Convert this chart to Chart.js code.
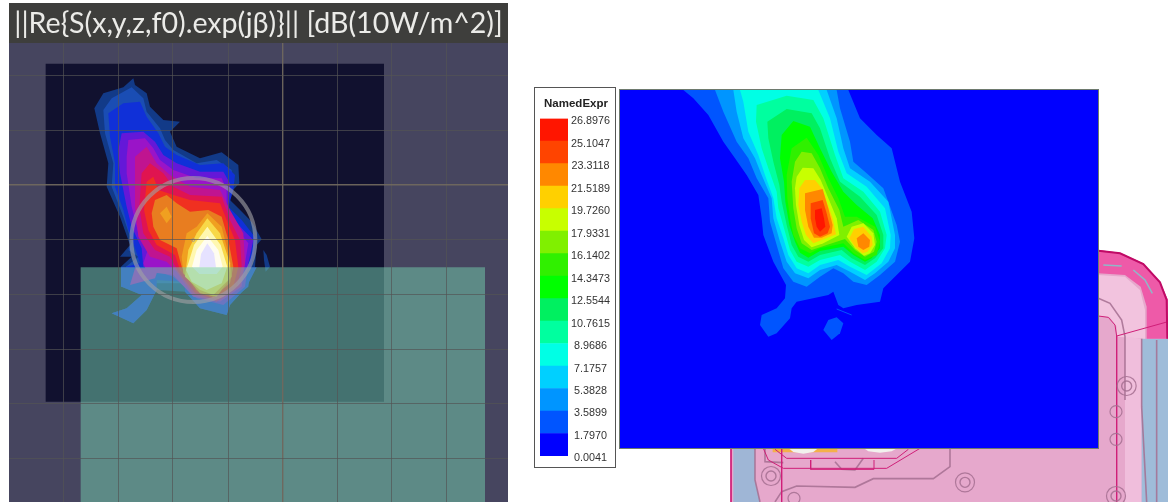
<!DOCTYPE html>
<html><head><meta charset="utf-8">
<script src="https://cdn.jsdelivr.net/npm/chart.js@4/dist/chart.umd.min.js"></script>
<style>
html,body{margin:0;padding:0;background:#fff;width:1168px;height:502px;overflow:hidden}
canvas{position:absolute;display:block}
#left{left:9px;top:3px;background:linear-gradient(#3e3e3c 40px,#46455f 40px);filter:blur(.7px)}
#cad{left:720px;top:240px;filter:blur(.4px)}
#heat{left:620px;top:90px;background:#0000ff;outline:1px solid #6e7a6e;filter:blur(.5px)}
#bar{left:535px;top:88px;background:#fff;outline:1px solid #555;filter:blur(.35px)}
</style></head><body>
<canvas id="cad" width="448" height="262"></canvas>
<canvas id="left" width="499" height="499"></canvas>
<canvas id="heat" width="478" height="358"></canvas>
<canvas id="bar" width="80" height="379"></canvas>
<script>
/* ---------- left panel ---------- */
const leftTitle = "||Re{S(x,y,z,f0).exp(jβ)}|| [dB(10W/m^2)]";
const leftGridX = [190,355,518,685,848,1012,1175,1340];
const leftGridY = [225,390,553,718,882,1048,1210,1376];
const leftMajorX = 848, leftMajorY = 553;
const leftColors = ["#123a88","#1a4db4","#1030d8","#6418d8","#9a14c8","#c01490","#e01450","#f03020","#e87d20","#f0a020","#f8d848","#fff8b0","#fffdf0","#e6e2ff"];
const leftC1 = [[400,235],[405,255],[440,280],[450,320],[490,360],[540,365],[510,395],[530,440],[600,475],[665,457],[715,495],[718,550],[680,590],[715,625],[755,665],[785,718],[770,735],[765,800],[740,860],[690,915],[680,945],[600,925],[555,875],[470,870],[440,930],[400,970],[335,940],[380,925],[425,885],[365,860],[363,800],[395,770],[360,770],[390,735],[360,650],[320,560],[325,490],[300,400],[283,325],[310,280],[370,262]];
const leftC1b = [[790,750],[800,765],[810,800],[797,815],[792,780]];
const leftC2 = [[395,262],[430,295],[440,335],[480,385],[495,420],[520,450],[590,490],[650,480],[695,510],[700,550],[670,590],[690,640],[740,690],[765,720],[745,790],[730,850],[690,895],[670,925],[610,905],[560,850],[470,850],[440,860],[380,850],[378,800],[415,770],[385,750],[395,725],[370,650],[335,560],[340,490],[315,400],[310,330],[335,295]];
const leftUnderA = [[470,800],[470,870],[440,930],[400,970],[335,940],[380,925],[425,885],[365,860],[363,802]];
const leftUnderB = [[550,802],[770,802],[740,860],[690,915],[680,945],[600,925],[555,875]];
const leftC3 = [[370,310],[420,305],[440,350],[475,400],[495,440],[530,465],[600,495],[670,490],[705,525],[700,570],[685,620],[725,660],[770,718],[755,790],[745,860],[690,905],[670,925],[600,905],[550,845],[470,840],[380,845],[378,800],[420,790],[405,745],[385,690],[370,630],[345,560],[345,490],[330,410],[325,340]];
const leftC4 = [[365,400],[430,395],[465,425],[490,465],[530,490],[600,515],[670,515],[690,550],[685,640],[730,690],[760,720],[745,790],[735,860],[670,915],[590,895],[520,830],[430,800],[425,745],[395,680],[380,620],[360,520],[355,450]];
const leftC5 = [[385,420],[435,415],[460,445],[480,480],[520,510],[590,535],[665,535],[680,570],[680,650],[720,700],[745,730],[735,790],[725,860],[660,905],[580,890],[520,825],[440,815],[430,790],[445,745],[415,700],[395,620],[380,520],[380,470]];
const leftC5b = [[405,805],[475,805],[465,835],[390,855]];
const leftC6 = [[405,470],[440,440],[470,490],[510,525],[570,560],[660,570],[690,630],[730,700],[735,790],[720,860],[650,905],[580,885],[530,815],[500,785],[450,770],[415,710],[405,620]];
const leftC7 = [[425,520],[450,490],[490,520],[520,560],[570,585],[665,590],[690,660],[720,720],[725,800],[710,860],[650,900],[585,880],[535,815],[510,770],[465,750],[430,700],[418,620]];
const leftC8 = [[440,545],[460,530],[475,570],[520,585],[570,600],[660,610],[680,660],[705,720],[715,800],[700,860],[640,895],[590,875],[540,810],[525,765],[470,735],[445,690],[432,630]];
const leftC9 = [[465,600],[500,585],[530,610],[570,635],[625,630],[665,650],[685,720],[700,800],[690,850],[640,890],[590,870],[545,800],[530,745],[480,720],[460,680],[455,640]];
const leftC10a = [[560,700],[590,680],[622,640],[665,680],[690,780],[695,830],[650,890],[600,880],[550,820],[545,770]];
const leftC10b = [[480,640],[500,620],[515,650],[500,670]];
const leftC11 = [[565,750],[590,700],[622,655],[660,700],[690,790],[685,840],[640,885],[600,870],[555,830]];
const leftC12 = [[565,790],[582,735],[622,680],[662,735],[682,800],[665,850],[620,870],[575,845],[558,810]];
const leftC13 = [[576,800],[590,750],[622,708],[655,750],[668,800],[650,822],[598,822]];
const leftC14 = [[598,802],[603,762],[622,730],[642,760],[648,802]];
const leftDark = [[137,191],[1152,191],[1152,1205],[137,1205]];
const leftBoard = [[242,802],[1455,802],[1455,1506],[242,1506]];
const leftRing = [[580,720]];

/* ---------- right field plot ---------- */
const scaleValues = [0.0041,1.7970,3.5899,5.3828,7.1757,8.9686,10.7615,12.5544,14.3473,16.1402,17.9331,19.7260,21.5189,23.3118,25.1047,26.8976];
const scaleColors = ["#0000ff","#0055ff","#0095ff","#00d0ff","#00ffe5","#00ff9f","#00f060","#00ff00","#30f000","#80f000","#c8ff00","#ffd000","#ff8800","#ff4400","#ff1500"];
const rightL1 = [[10,15],[505,15],[540,100],[590,150],[635,190],[660,290],[695,380],[703,460],[690,530],[650,570],[610,610],[600,650],[530,660],[490,670],[475,660],[460,620],[445,630],[350,650],[335,670],[330,700],[290,745],[265,755],[240,720],[245,690],[290,670],[315,640],[318,600],[280,530],[250,450],[245,400],[235,330],[200,270],[165,220],[130,170],[85,90],[40,40]];
const rightL1b = [[430,735],[445,705],[470,697],[490,715],[480,745],[455,765]];
const rightL2 = [[105,15],[470,15],[480,70],[510,170],[520,230],[560,265],[610,310],[650,420],[660,470],[645,530],[600,570],[560,600],[520,590],[490,565],[460,550],[420,575],[380,605],[340,590],[310,550],[290,480],[270,410],[265,340],[230,280],[205,220],[170,170],[130,80]];
const rightL3 = [[160,15],[440,15],[470,100],[490,190],[510,250],[570,290],[625,350],[645,450],[645,490],[625,530],[585,565],[555,585],[510,560],[470,540],[420,555],[385,580],[345,565],[320,530],[300,470],[280,400],[275,340],[245,270],[225,220],[190,160],[170,80]];
const rightL4 = [[180,15],[415,15],[450,100],[475,200],[500,265],[560,305],[615,370],[632,450],[630,490],[605,535],[560,570],[510,545],[475,525],[420,540],[385,565],[350,550],[325,510],[310,460],[290,400],[280,340],[255,270],[235,210],[205,140],[190,50]];
const rightL5 = [[230,60],[320,32],[400,45],[430,100],[465,210],[490,280],[550,320],[600,380],[620,450],[615,490],[590,530],[555,555],[510,530],[480,510],[420,525],[385,545],[350,530],[330,495],[315,440],[295,370],[290,320],[265,250],[245,190],[228,110]];
const rightL6 = [[262,110],[320,72],[395,85],[420,130],[450,220],[480,290],[540,335],[590,390],[610,450],[610,490],[585,520],[555,540],[515,520],[485,495],[420,510],[385,530],[355,515],[335,480],[320,420],[305,350],[298,300],[280,230],[265,160]];
const rightL7 = [[305,150],[340,108],[390,125],[420,190],[455,260],[490,320],[530,360],[578,400],[600,450],[600,490],[575,520],[555,530],[520,510],[490,485],[420,498],[385,518],[360,503],[345,470],[328,420],[316,350],[312,290],[300,220]];
const rightL8 = [[335,190],[380,158],[415,210],[445,280],[475,340],[495,395],[530,395],[585,425],[600,470],[590,510],[555,525],[520,505],[490,475],[420,490],[390,505],[360,490],[340,450],[330,400],[322,340],[320,270]];
const rightL9 = [[345,230],[365,200],[395,205],[420,250],[445,310],[478,375],[490,425],[535,405],[580,435],[590,470],[582,500],[555,515],[525,495],[495,462],[440,480],[395,495],[365,475],[350,430],[340,370],[335,290]];
const rightL10a = [[350,275],[368,248],[400,250],[422,285],[445,340],[470,400],[478,450],[430,475],[395,487],[372,465],[358,420],[348,360],[345,310]];
const rightL10b = [[500,455],[515,425],[550,415],[580,445],[585,480],[570,505],[552,512],[525,490]];
const rightL11a = [[358,310],[375,285],[405,285],[425,310],[440,350],[458,400],[468,448],[425,465],[400,475],[378,450],[365,410],[355,360]];
const rightL11b = [[508,460],[522,432],[550,425],[575,455],[578,480],[562,500],[548,505],[525,485]];
const rightL12a = [[375,325],[428,312],[445,370],[458,420],[455,445],[425,458],[402,458],[385,425],[375,375]];
const rightL12b = [[530,460],[550,445],[570,465],[568,485],[550,495],[535,485]];
const rightL13 = [[392,355],[428,345],[440,385],[450,425],[443,445],[420,455],[402,445],[392,400]];
const rightL14 = [[405,375],[425,370],[432,400],[436,425],[420,440],[410,425],[405,400]];
const rightSliver = [[470,672],[515,690]];

/* ---------- CAD outline behind the field plot ---------- */
const cadBody = [[33,786],[33,620],[1135,620],[1135,30],[1200,38],[1270,70],[1320,125],[1344,180],[1344,786]];
const cadBand = [[1135,30],[1200,38],[1270,70],[1320,125],[1344,180],[1344,296],[1280,296],[1280,200],[1262,140],[1215,105],[1135,100]];
const cadLight = [[1135,105],[1215,110],[1260,150],[1275,210],[1275,296],[1190,290],[1190,260],[1170,232],[1135,228]];
const cadLightStrip = [[1215,290],[1265,296],[1265,786],[1215,786]];
const cadStripR = [[1265,296],[1344,296],[1344,786],[1265,786]];
const cadStripL = [[40,620],[105,620],[105,720],[120,786],[40,786]];
const cadCamera = [[158,620],[352,620],[352,637],[158,637]];
const cadLensA = [[200,620],[300,620],[280,636],[250,641],[220,636]];
const cadLensB = [[425,620],[540,620],[515,634],[480,638],[445,634]];
const cadPinkLines = [
 [[33,620],[33,786]],
 [[1135,228],[1165,232],[1185,255],[1190,288],[1190,786]],
 [[1190,288],[1344,245]],
 [[165,628],[200,655],[530,655],[565,628]],
 [[130,625],[145,660],[190,685],[500,685],[600,625]],
 [[185,625],[185,786]],
 [[272,660],[272,688],[462,688],[462,660]]
];
const cadEdge = [[1135,32],[1200,40],[1270,72],[1320,127],[1340,180],[1342,296]];
const cadSlots = [[[1150,75],[1205,78]],[[1240,90],[1275,120],[1297,160]]];
const cadGreyLines = [
 [[1135,175],[1170,190],[1205,240],[1215,290],[1215,480]],
 [[690,625],[690,680],[640,716],[460,716],[405,742],[230,738],[185,755],[165,786]],
 [[135,625],[135,665],[190,668]],
 [[345,665],[365,688],[405,690],[430,655]],
 [[105,620],[105,720],[120,786]],
 [[1265,296],[1265,500],[1280,786]],
 [[1310,300],[1310,786]]
];
const cadRingsBig = [[1220,438],[1188,768],[735,727],[153,708]];
const cadRingsSmall = [[1188,515],[1188,598],[222,775]];

const toPts = a => a.map(p => ({x:p[0], y:p[1]}));
const area = (pts,color) => ({type:'scatter',data:toPts(pts),showLine:true,fill:'shape',backgroundColor:color,borderColor:color,borderWidth:0,pointRadius:0,tension:0});
const path = (pts,color,w) => ({type:'scatter',data:toPts(pts),showLine:true,fill:false,borderColor:color,borderWidth:w,pointRadius:0,tension:0});
const rings = (pts,r,color,w) => ({type:'scatter',data:toPts(pts),showLine:false,pointRadius:r,pointBorderWidth:w,pointBorderColor:color,pointBackgroundColor:'rgba(0,0,0,0)'});
// later items paint over earlier ones
const stack = list => list.map((d,i)=>Object.assign(d,{order:-i}));
const base = {animation:false,responsive:false,events:[],plugins:{legend:{display:false},tooltip:{enabled:false},title:{display:false}},layout:{padding:0,autoPadding:false}};
const hiddenXY = (x0,x1,y0,y1) => ({x:{type:'linear',display:false,min:x0,max:x1},y:{type:'linear',display:false,min:y0,max:y1,reverse:true}});

Chart.defaults.font.family = "'Liberation Sans',Arial,sans-serif";

/* left */
const gridAxis = (lo,hi,list,major,rev) => ({type:'linear',min:lo,max:hi,reverse:rev,
  afterBuildTicks:s=>{s.ticks=list.map(v=>({value:v}));},
  ticks:{display:false},border:{display:false},
  grid:{z:1,drawTicks:false,lineWidth:c=>c.tick&&c.tick.value===major?1.4:1,
        color:c=>c.tick&&c.tick.value===major?'rgba(112,104,94,.95)':'rgba(84,84,84,.68)'}});
new Chart(document.getElementById('left'),{type:'scatter',
  data:{datasets:stack([
    area(leftDark,'#11112f'),
    area(leftC1,leftColors[0]),area(leftC1b,leftColors[0]),
    area(leftC2,leftColors[1]),area(leftUnderA,leftColors[2]),area(leftUnderB,leftColors[2]),
    area(leftC3,leftColors[2]),area(leftC4,leftColors[3]),area(leftC5,leftColors[4]),area(leftC5b,leftColors[4]),
    area(leftC6,leftColors[5]),area(leftC7,leftColors[6]),area(leftC8,leftColors[7]),area(leftC9,leftColors[8]),
    area(leftC10a,leftColors[9]),area(leftC10b,leftColors[9]),area(leftC11,leftColors[10]),area(leftC12,leftColors[11]),area(leftC13,leftColors[12]),area(leftC14,leftColors[13]),
    area(leftBoard,'rgba(113,201,170,.53)'),
    rings(leftRing,62,'rgba(160,160,165,.62)',4),
    rings(leftRing,1.5,'rgba(150,150,150,.7)',1)
  ])},
  options:{...base,
    plugins:{...base.plugins,title:{display:true,text:leftTitle,color:'#ebebe8',
       font:{family:"Lato,'Open Sans',sans-serif",size:28.6,weight:'normal',lineHeight:1.2},padding:{top:3.6,bottom:2.1}}},
    scales:{x:gridAxis(27,1524,leftGridX,leftMajorX,false),y:gridAxis(129,1506,leftGridY,leftMajorY,true)}}
});

/* CAD */
new Chart(document.getElementById('cad'),{type:'scatter',
  data:{datasets:stack([
    area(cadBody,'#e6a8cc'),area(cadStripL,'#9fb6d6'),area(cadLightStrip,'#f0bedc'),area(cadStripR,'#9fbcd9'),
    area(cadBand,'#ee5aa8'),area(cadLight,'#f2c3de'),
    area(cadCamera,'#f4b04a'),area(cadLensA,'#f2f2ee'),area(cadLensB,'#f2f2ee'),
    ...cadGreyLines.map(l=>path(l,'rgba(165,110,145,.85)',1.6)),
    ...cadSlots.map(l=>path(l,'#8fb8c8',1.5)),
    ...cadPinkLines.map(l=>path(l,'#cf1f78',1)),
    path(cadEdge,'#c00a66',2),
    rings(cadRingsBig,9.5,'rgba(165,110,145,.85)',1.2),rings(cadRingsBig,5,'rgba(165,110,145,.85)',1.4),
    rings(cadRingsSmall,6,'rgba(165,110,145,.85)',1.2)
  ])},
  options:{...base,scales:hiddenXY(0,1344,0,786)}
});

/* field */
new Chart(document.getElementById('heat'),{type:'scatter',
  data:{datasets:stack([
    area(rightL1,scaleColors[1]),area(rightL1b,scaleColors[1]),
    area(rightL2,scaleColors[2]),area(rightL3,scaleColors[3]),area(rightL4,scaleColors[4]),
    area(rightL5,scaleColors[5]),area(rightL6,scaleColors[6]),area(rightL7,scaleColors[7]),
    area(rightL8,scaleColors[8]),area(rightL9,scaleColors[9]),
    area(rightL10a,scaleColors[10]),area(rightL10b,scaleColors[10]),
    area(rightL11a,scaleColors[11]),area(rightL11b,scaleColors[11]),
    area(rightL12a,scaleColors[12]),area(rightL12b,scaleColors[12]),
    area(rightL13,scaleColors[13]),area(rightL14,scaleColors[14]),
    path(rightSliver,scaleColors[1],1)
  ])},
  options:{...base,scales:hiddenXY(-180,1254,15,1089)}
});

/* colour scale */
new Chart(document.getElementById('bar'),{type:'bar',
  data:{labels:[''],datasets:scaleColors.map((c,i)=>({data:[[scaleValues[i],scaleValues[i+1]]],backgroundColor:c,borderWidth:0,barPercentage:1,categoryPercentage:1,grouped:false}))},
  options:{...base,
    layout:{padding:{left:5,right:3,top:0,bottom:11},autoPadding:false},
    plugins:{...base.plugins,title:{display:true,text:'NamedExpr',color:'#222',font:{size:11.5,weight:'bold',lineHeight:1.2},padding:{top:9,bottom:7.8}}},
    scales:{x:{display:false},
      y:{type:'linear',position:'right',min:scaleValues[0],max:scaleValues[15],
         afterBuildTicks:s=>{s.ticks=scaleValues.map(v=>({value:v}));},
         afterFit:s=>{s.width=44;},
         border:{display:false},grid:{display:false,drawTicks:false},
         ticks:{autoSkip:false,padding:3,crossAlign:'center',labelOffset:2.5,color:'#333',font:{size:10.8},callback:v=>v.toFixed(4)}}}}
});
</script>
</body></html>
